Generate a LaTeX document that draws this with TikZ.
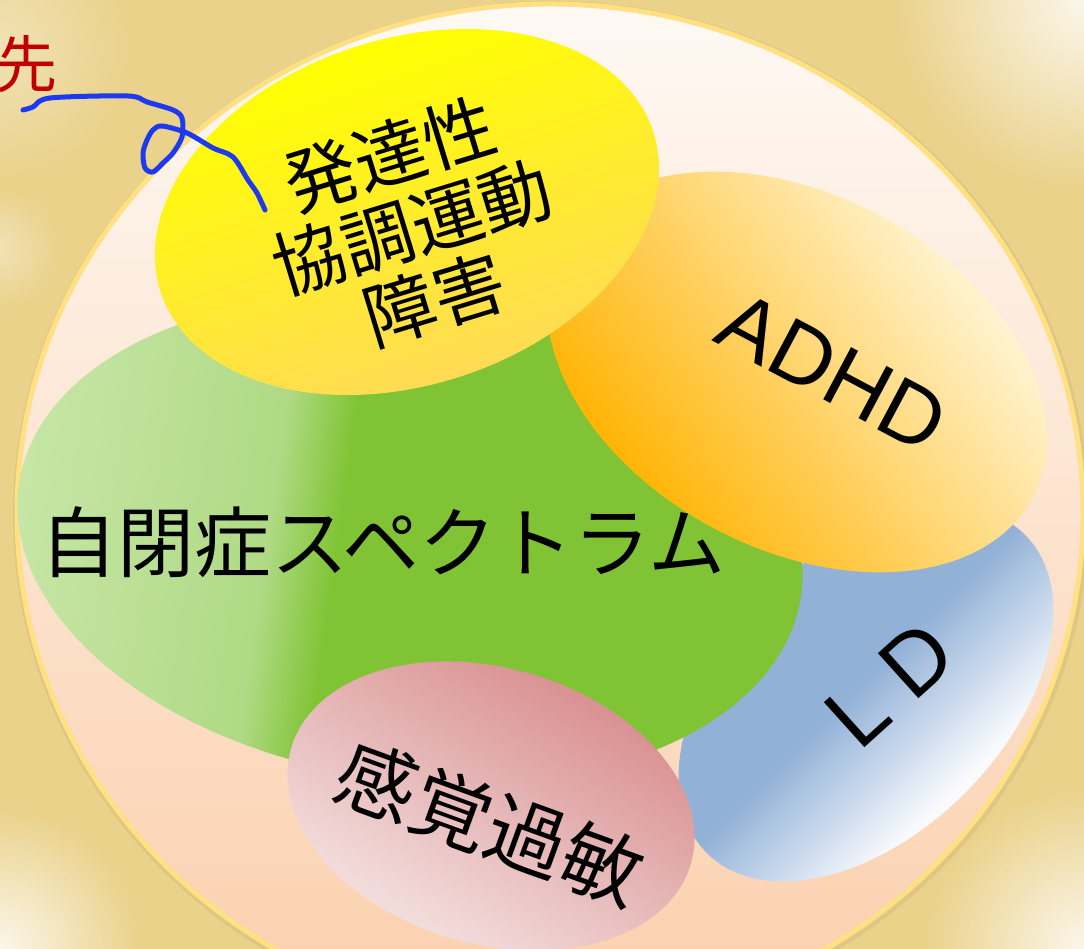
\documentclass[tikz,border=0pt]{standalone}
\usepackage{fontspec}
\usepackage{tikz}
\usepackage{xcolor}
\usetikzlibrary{positioning}
\setmainfont{Liberation Sans}
\newfontfamily\jpfont{Noto Sans CJK JP}

\definecolor{bgtan}{HTML}{EAD28B}
\definecolor{bglight}{HTML}{FBF6EA}
\definecolor{bgsoft}{HTML}{F1E2B6}
\definecolor{ringtop}{HTML}{FEF9F4}
\definecolor{ringbot}{HTML}{FBCFAC}
\definecolor{ringedge}{HTML}{FFE082}
\definecolor{ddctop}{HTML}{FFFF00}
\definecolor{ddcbot}{HTML}{FFDB55}
\definecolor{adhdlight}{HTML}{FFF5D6}
\definecolor{adhddark}{HTML}{FFB300}
\definecolor{asdlight}{HTML}{C6E6A6}
\definecolor{asdmid}{HTML}{B0DA85}
\definecolor{asddark}{HTML}{80C435}
\definecolor{ldblue}{HTML}{92B1D7}
\definecolor{ldwhite}{HTML}{F8FAFD}
\definecolor{sensdark}{HTML}{D98F90}
\definecolor{senslight}{HTML}{F3E0DF}
\definecolor{penblue}{HTML}{1E3AF0}
\definecolor{inkred}{HTML}{C00000}

\pgfdeclarehorizontalshading{asdfade}{100bp}{color(0bp)=(asdlight); color(25bp)=(asdlight); color(41bp)=(asdmid); color(45.5bp)=(asddark); color(100bp)=(asddark)}
\pgfdeclareverticalshading{ldfade}{100bp}{color(0bp)=(ldwhite); color(27bp)=(ldwhite); color(52bp)=(ldblue); color(100bp)=(ldblue)}

\begin{document}
\begin{tikzpicture}[x=1pt, y=1pt,
            txt/.style={inner sep=0pt, align=center, text=black},
            jp/.style={txt, font=\jpfont\fontsize{#1}{#1}\selectfont},
            corner/.style={inner color=bglight, outer color=bgtan},
            softcorner/.style={inner color=bgsoft, outer color=bgtan}
        ]

% Frame and background
            \useasboundingbox (0,0) rectangle (1084,949);
            \clip (0,0) rectangle (1084,949);
            \fill[bgtan] (0,0) rectangle (1084,949);
            \shade[corner] (1084,949) circle (190);
            \shade[softcorner] (0,900) circle (130);
            \shade[softcorner] (0,700) circle (60);
            \shade[corner] (0,0) circle (140);
            \shade[corner] (1084,0) circle (160);

% Outer circle
            \draw[bgtan!80!black, line width=4pt, opacity=0.25] (551,434) ellipse [x radius=536, y radius=512];
            \shade[top color=ringtop, bottom color=ringbot] (550,436) ellipse [x radius=533, y radius=509];
            \draw[ringedge, line width=5pt] (550,436) ellipse [x radius=533, y radius=509];

% LD
            \shade[transform canvas={shift={(866,255)}, rotate=45}, shading=ldfade] (0,0) ellipse [x radius=225, y radius=140];

% Autism spectrum
            \shade[transform canvas={shift={(410,409)}, rotate=-8}, shading=asdfade] (0,0) ellipse [x radius=395, y radius=240];

% ADHD
            \shade[transform canvas={shift={(797,577)}, rotate=-28}, top color=adhdlight, bottom color=adhddark, shading angle=-25] (0,0) ellipse [x radius=267, y radius=177];

% Developmental coordination disorder
            \shade[transform canvas={shift={(407,737)}, rotate=18}, top color=ddctop, bottom color=ddcbot] (0,0) ellipse [x radius=259, y radius=173];

% Sensory
            \shade[transform canvas={shift={(491,143)}, rotate=-16}, top color=sensdark, bottom color=senslight, shading angle=-15] (0,0) ellipse [x radius=208, y radius=138];

% Labels
            \node[txt, font=\jpfont\fontsize{72}{76}\selectfont, rotate=17] (ddc) at (412,722) {発達性\\協調運動\\障害};
            \node[txt, font=\fontsize{86}{86}\selectfont, rotate=-28] (adhd) at (833,577) {ADHD};
            \node[jp=77] (asd) at (383,407) {自閉症スペクトラム};
            \node[txt, font=\fontsize{88}{88}\selectfont, rotate=42] (ld) at (890,265) {L D};
            \node[jp=80, rotate=-20] (sens) at (490,126) {感覚過敏};

% Handwritten note
            \node[jp=62, text=inkred] (saki) at (26,885) {先};
            \draw[penblue, line width=5pt, line cap=round, line join=round] plot[smooth, tension=0.5] coordinates {(23,839) (33,842) (50,851) (128,853) (147,847) (173,839) (182,831) (182,812) (173,796) (163,786) (153,777) (145,781) (143,796) (147,809) (153,819) (162,823) (187,816) (213,801) (233,792) (248,769) (257,756) (265,739)};

        \end{tikzpicture}
\end{document}
